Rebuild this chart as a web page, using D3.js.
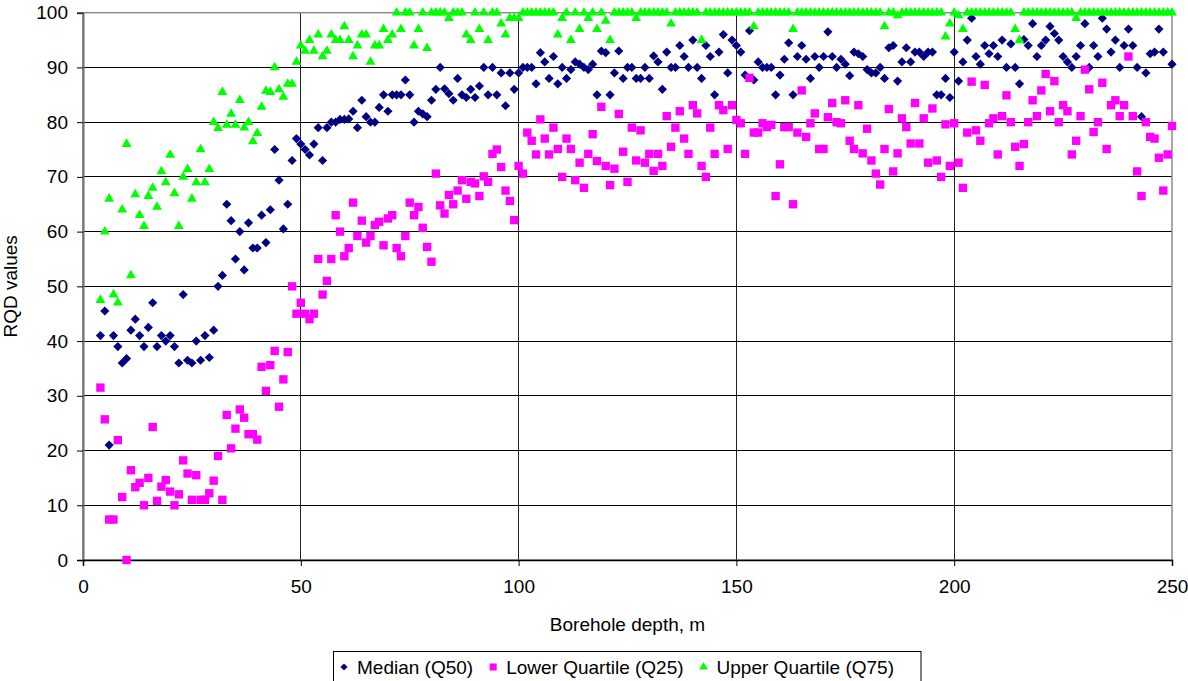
<!DOCTYPE html>
<html>
<head>
<meta charset="utf-8">
<script src="https://cdn.jsdelivr.net/npm/d3@7"></script>
<style>
  html, body { margin: 0; padding: 0; background: #fff; }
  #chart { width: 1188px; height: 681px; }
  text { font-family: "Liberation Sans", Arial, sans-serif; }
</style>
</head>
<body>
<div id="chart"></div>
<script>
// RQD quartiles vs borehole depth (one reading per metre, from 4 m to 250 m)
const firstDepth = 4;
const xTicks = [0, 50, 100, 150, 200, 250];
const yTicks = [0, 10, 20, 30, 40, 50, 60, 70, 80, 90, 100];

// Median (Q50)
const q50 = [
  41, 45.5, 21, 41, 39, 36, 36.8, 42, 44, 41,
  39, 42.5, 47, 39, 41, 40, 41, 39, 36, 48.5,
  36.5, 36, 40, 36.5, 41, 37, 42, 50, 52, 65,
  62, 55, 60, 53, 61.6, 57, 57, 63, 58, 64,
  75, 69.4, 60.5, 65, 73, 77, 76, 75, 74, 76,
  79, 73, 79, 80, 80, 80.5, 80.5, 80.6, 82, 79,
  84, 81, 80, 80, 82.7, 85, 82, 85, 85, 85,
  87.7, 85, 80, 82, 81.5, 81, 84, 86, 90, 86.1,
  85.2, 84, 88, 85, 84.5, 86, 84.5, 86.6, 90, 85,
  90, 85, 89, 83, 89, 86, 89, 90, 90, 90,
  87, 92.7, 91, 88, 92, 87, 90, 88, 89.6, 91,
  90.6, 90, 89.6, 90.6, 85, 93, 92.7, 85, 89, 93,
  88, 90, 90, 88, 88, 90, 88, 92.1, 91, 86,
  92.8, 90, 90, 94, 92, 90, 95, 90, 88, 94,
  92, 85, 92.8, 96, 89, 95, 94, 92.8, 88.6, 96.7,
  87.7, 91, 90, 90, 90, 85, 88.6, 91.5, 94.5, 85,
  92, 94, 91.5, 88, 92, 90, 92, 96.5, 92, 90,
  91.5, 90.6, 88.5, 92.8, 92.5, 92, 89.6, 89, 89, 90,
  88, 93.6, 94, 87.5, 91, 93.6, 91, 92.8, 92.8, 92,
  92.8, 92.8, 85, 85, 88, 84.5, 92.8, 87.5, 91, 95,
  99, 92, 90.6, 94, 92.5, 94, 92, 95, 90, 94.3,
  90, 87, 95.1, 94, 98, 92, 94, 95, 97.5, 96.2,
  95, 92, 91, 90, 92, 94, 98, 90, 94, 92,
  99, 97, 92.8, 95, 90, 94, 97, 94, 90, 81,
  89, 92.5, 92.8, 97, 92.8, null, 90.6
];

// Lower Quartile (Q25)
const q25 = [
  31.5, 25.7, 7.4, 7.4, 21.9, 11.5, 0, 16.4, 13.3, 14.1,
  10, 15, 24.3, 10.8, 13.4, 14.6, 12.5, 10, 12, 18.2,
  15.8, 11, 15.5, 11, 11, 12.2, 14.5, 19, 11, 26.5,
  20.4, 24, 27.5, 26, 23, 23, 22, 35.3, 30.9, 35.6,
  38.2, 28, 33, 38, 50, 45, 47, 45, 44, 45,
  55, 48.5, 51, 55, 63, 60, 55.5, 57, 65.3, 59.2,
  62, 58, 59.2, 61.2, 61.8, 57.5, 62.4, 63, 57, 55.5,
  59.2, 65.3, 63, 64.5, 60.7, 57.2, 54.5, 70.6, 64.8, 63.3,
  66.7, 65, 67.5, 69.4, 66, 69.1, 68.8, 66.5, 70.1, 69.1,
  74.2, 75, 71.8, 67.5, 65.6, 62.1, 72, 70.6, 78.1, 76.6,
  74.1, 80.5, 77, 74.1, 79, 75.1, 70, 77, 75.1, 69.4,
  72.6, 68, 74.2, 77.8, 72.9, 82.8, 72, 68.5, 71.5, 81.5,
  74.6, 69.1, 79, 73, 78.5, 72.6, 74.2, 71.1, 74.2, 72,
  81.1, 75.5, 79, 82, 77, 74.2, 83.1, 81.6, 72, 70,
  79, 74.2, 83.1, 82.2, 75.1, 83.1, 80.4, 79.8, 74.2, 88.1,
  78.1, 78.1, 79.8, 79.1, 79.5, 66.5, 72.3, 79.1, 79.1, 65,
  78.1, 85.8, 77.3, 79.8, 81.6, 75.1, 75.1, 80.9, 83.5, 80,
  79.8, 84, 76.6, 75.1, 83.1, 74.3, 78.8, 73, 70.6, 68.6,
  75.1, 82.4, 71, 74.3, 80.7, 79.1, 76.1, 83.5, 76.1, 80.7,
  72.6, 82.5, 73, 70, 79.6, 72, 79.8, 72.6, 68, 78.1,
  87.4, 78.5, 76.6, 86.8, 79.8, 80.7, 74.1, 81.1, 84.9, 80,
  75.5, 72, 76, 80, 84, 81.1, 85.8, 88.8, 82, 87.5,
  80, 83.1, 82, 74.1, 76.6, 81.1, 89.6, 86, 78.2, 80,
  87.2, 75.1, 83.1, 84, 81.1, 83.1, 92, 81.1, 71, 66.5,
  80, 77.3, 77, 73.5, 67.5, 74.1, 79.3
];

// Upper Quartile (Q75)
const q75 = [
  47.5, 60, 66, 48.5, 47, 64, 76, 52, 66.8, 63,
  61, 66.5, 68, 64.5, 71, 69, 74, 67, 61, 70,
  71.4, 66, 69, 75, 69, 71.4, 80, 78.9, 85.5, 79.5,
  81.5, 79.5, 84, 79, 80, 76.5, 78, 82.8, 85.7, 85.5,
  90, 86, 84.6, 87, 87, 91, 94, 93, 95, 93,
  96, 92, 93, 96, 95, 95, 97.5, 95, 92, 94,
  96, 96, 91, 94, 94, 97, 95, 96, 100, 97,
  100, 100, 94, 97, 100, 93.5, 100, 100, 100, 100,
  99, 100, 100, 100, 96, 95, 100, 97, 100, 95,
  100, 100, 98, 96, 99, 99, 99, 100, 100, 100,
  100, 100, 100, 100, 100, 96, 99, 100, 95, 100,
  97, 100, 99, 100, 97, 100, 98.5, 95, 100, 100,
  100, 100, 100, 99, 100, 100, 100, 100, 100, 100,
  100, 98, 100, 100, 100, 100, 100, 100, 95, 100,
  100, 100, 100, 100, 100, 100, 100, 100, 100, 100,
  97.5, 100, 100, 100, 100, 100, 100, 100, 100, 97,
  100, 100, 100, 100, 100, 100, 100, 100, 100, 100,
  100, 100, 100, 100, 100, 100, 100, 100, 100, 100,
  97.5, 100, 100, 99.5, 100, 100, 100, 100, 100, 100,
  100, 100, 100, 100, 95.6, 98, 100, 99.5, 97, 100,
  100, 100, 100, 100, 100, 100, 100, 100, 100, 100,
  97, 95, 100, 100, 100, 100, 100, 100, 100, 100,
  100, 100, 100, 100, 99, 100, 100, 100, 100, 100,
  100, 100, 100, 100, 100, 100, 100, 100, 100, 100,
  100, 100, 100, 100, 100, 100, 100
];

const seriesNames = ["Median (Q50)", "Lower Quartile (Q25)", "Upper Quartile (Q75)"];
const seriesColors = ["#000080", "#ff00ff", "#00ff00"];

const W = 1188, H = 681;
const m = { left: 83, right: 16, top: 12.7, bottom: 121 };

const svg = d3.select("#chart").append("svg")
  .attr("width", W).attr("height", H)
  .attr("viewBox", [0, 0, W, H]);

svg.append("rect").attr("width", W).attr("height", H).attr("fill", "#fff");

const x = d3.scaleLinear().domain([0, 250]).range([m.left, W - m.right]);
const y = d3.scaleLinear().domain([0, 100]).range([H - m.bottom, m.top]);

// gridlines
const grid = svg.append("g").attr("stroke", "#000").attr("stroke-width", 1).attr("shape-rendering", "crispEdges");
grid.selectAll("line.h").data(yTicks.slice(1, -1)).join("line")
  .attr("class", "h")
  .attr("x1", x(0)).attr("x2", x(250))
  .attr("y1", d => y(d)).attr("y2", d => y(d));
grid.selectAll("line.v").data(xTicks.slice(1, -1)).join("line")
  .attr("class", "v")
  .attr("x1", d => x(d)).attr("x2", d => x(d))
  .attr("y1", y(0)).attr("y2", y(100))
  .attr("stroke", "#222");

// plot frame (gray)
svg.append("rect")
  .attr("x", x(0)).attr("y", y(100))
  .attr("width", x(250) - x(0)).attr("height", y(0) - y(100))
  .attr("fill", "none").attr("stroke", "#8c8c8c").attr("stroke-width", 1.5);

// axes
const fontSize = 19;
const yAxis = svg.append("g")
  .attr("transform", `translate(${x(0)},0)`)
  .call(d3.axisLeft(y).tickValues(yTicks).tickSize(6).tickPadding(9).tickFormat(d3.format("d")));
yAxis.select(".domain").attr("stroke", "#707070").attr("stroke-width", 2);
yAxis.selectAll(".tick line").attr("stroke", "#000");
yAxis.selectAll("text").attr("font-size", fontSize).attr("fill", "#000")
  .style("font-family", '"Liberation Sans", Arial, sans-serif');

const xAxis = svg.append("g")
  .attr("transform", `translate(0,${y(0)})`)
  .call(d3.axisBottom(x).tickValues(xTicks).tickSize(6).tickPadding(14).tickFormat(d3.format("d")));
xAxis.select(".domain").attr("stroke", "#000").attr("stroke-width", 1.5);
xAxis.selectAll(".tick line").attr("stroke", "#000");
xAxis.selectAll("text").attr("font-size", fontSize).attr("fill", "#000")
  .style("font-family", '"Liberation Sans", Arial, sans-serif');

// axis titles
svg.append("text")
  .attr("x", (x(0) + x(250)) / 2).attr("y", 631)
  .attr("text-anchor", "middle").attr("font-size", fontSize)
  .text("Borehole depth, m");

svg.append("text")
  .attr("transform", `translate(17,${(y(0) + y(100)) / 2}) rotate(-90)`)
  .attr("text-anchor", "middle").attr("font-size", fontSize)
  .text("RQD values");

// markers
const symDiamond = d3.symbol().type(d3.symbolSquare).size(42)();
const symSquare = d3.symbol().type(d3.symbolSquare).size(70)();
const symTriangle = d3.symbol().type(d3.symbolTriangle).size(42)();
const markerPaths = [symDiamond, symSquare, symTriangle];
const markerRot = [45, 0, 0];

function toPoints(vals) {
  return vals.map((v, i) => ({ depth: firstDepth + i, v }))
    .filter(d => d.v !== null);
}

const allSeries = [q50, q25, q75];
allSeries.forEach((vals, k) => {
  svg.append("g")
    .selectAll("path")
    .data(toPoints(vals))
    .join("path")
      .attr("d", markerPaths[k])
      .attr("transform", d => `translate(${x(d.depth)},${y(d.v)}) rotate(${markerRot[k]})`)
      .attr("fill", seriesColors[k]);
});

// legend
const lg = svg.append("g");
const legendBox = lg.append("rect")
  .attr("x", 333.5).attr("y", 651.5).attr("height", 40)
  .attr("fill", "#fff").attr("stroke", "#000").attr("stroke-width", 1);
let lx = 344;
seriesNames.forEach((name, k) => {
  lg.append("path")
    .attr("d", k === 0 ? d3.symbol().type(d3.symbolSquare).size(26)() : (k === 1 ? d3.symbol().type(d3.symbolSquare).size(50)() : d3.symbol().type(d3.symbolTriangle).size(34)()))
    .attr("transform", `translate(${lx},${667}) rotate(${markerRot[k]})`)
    .attr("fill", seriesColors[k]);
  const t = lg.append("text")
    .attr("x", lx + 13).attr("y", 674)
    .attr("font-size", fontSize)
    .text(name);
  const w = t.node().getComputedTextLength();
  lx = lx + 13 + w + 20;
});
legendBox.attr("width", lx - 20 - 333.5 + 27);
</script>
</body>
</html>
